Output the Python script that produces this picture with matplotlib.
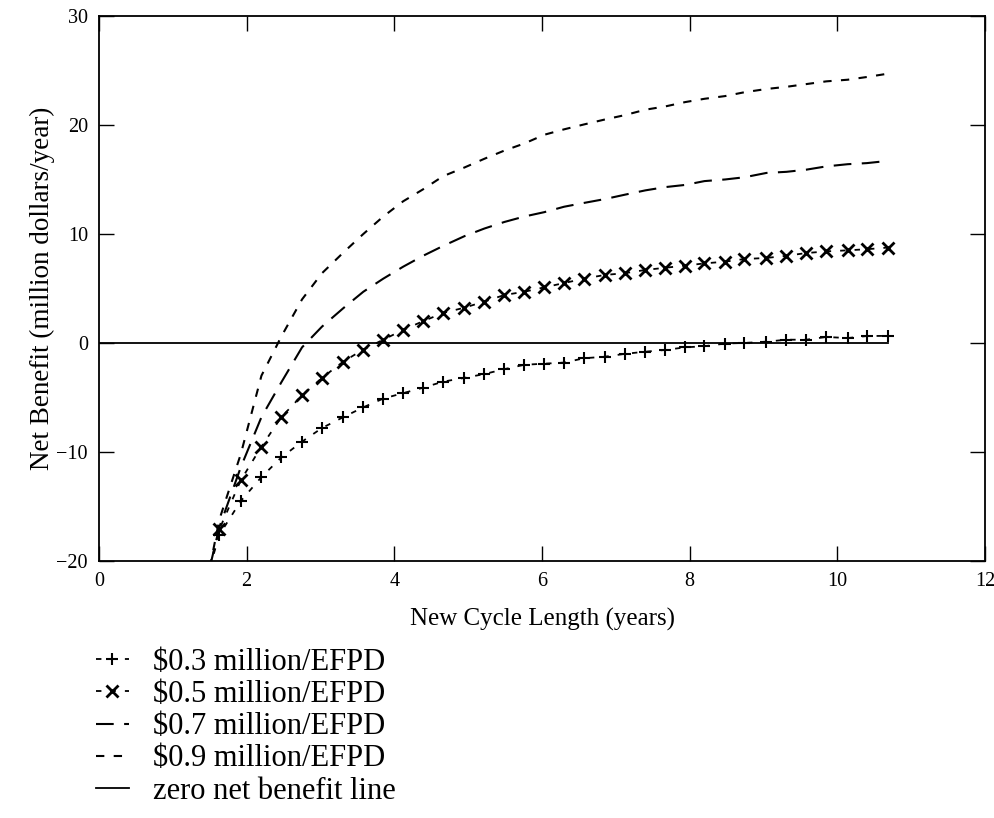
import matplotlib
matplotlib.use("Agg")
import matplotlib.pyplot as plt

# new cycle length (years) at each computed point
cycle = [1.50, 1.63, 1.92, 2.20, 2.47, 2.75, 3.02, 3.31, 3.58, 3.85, 4.12,
         4.39, 4.66, 4.95, 5.22, 5.49, 5.76, 6.03, 6.30, 6.57, 6.85, 7.12,
         7.40, 7.67, 7.94, 8.20, 8.48, 8.74, 9.04, 9.31, 9.58, 9.85, 10.14,
         10.40, 10.68]

# net benefit, million dollars/year
nb_03 = [-20.6, -17.6, -14.5, -12.3, -10.5, -9.05, -7.8, -6.8, -5.9, -5.1,
         -4.6, -4.1, -3.55, -3.2, -2.85, -2.4, -2.0, -1.9, -1.8, -1.4, -1.26,
         -1.0, -0.8, -0.64, -0.4, -0.3, -0.05, 0.0, 0.12, 0.3, 0.3, 0.55,
         0.45, 0.64, 0.65]
nb_05 = [-20.6, -17.1, -12.6, -9.5, -6.8, -4.8, -3.2, -1.7, -0.6, 0.3, 1.2,
         2.0, 2.75, 3.24, 3.8, 4.4, 4.7, 5.1, 5.5, 5.9, 6.24, 6.4, 6.7, 6.9,
         7.1, 7.3, 7.46, 7.7, 7.8, 8.0, 8.25, 8.4, 8.5, 8.6, 8.75]
nb_07 = [-20.6, -16.9, -11.4, -6.8, -3.6, -0.4, 1.5, 3.2, 4.7, 5.9, 7.0,
         8.0, 8.9, 9.8, 10.5, 11.1, 11.6, 12.0, 12.5, 12.85, 13.2, 13.6,
         14.0, 14.3, 14.5, 14.85, 15.0, 15.2, 15.6, 15.7, 15.9, 16.2, 16.4,
         16.5, 16.7]
nb_09 = [-20.6, -16.2, -10.2, -3.0, 0.6, 4.0, 6.4, 8.3, 10.0, 11.6, 13.0,
         14.1, 15.3, 16.1, 16.9, 17.65, 18.3, 19.1, 19.6, 20.05, 20.5, 20.9,
         21.4, 21.7, 22.1, 22.4, 22.65, 23.0, 23.3, 23.5, 23.75, 24.0, 24.15,
         24.4, 24.7]

zero_x = [0, 10.68]
zero_y = [0, 0]

labels = ["$0.3 million/EFPD", "$0.5 million/EFPD", "$0.7 million/EFPD",
          "$0.9 million/EFPD", "zero net benefit line"]

plt.rcParams['font.family'] = ['Liberation Serif', 'DejaVu Serif']

fig = plt.figure(figsize=(9.95, 8.18), dpi=100)
ax = fig.add_axes([0.0995, 0.3142, 0.8905, 0.6663])

ax.plot(cycle, nb_03, color='k', lw=1.3, linestyle=(0, (3, 5)),
        marker='+', ms=9, mew=1.5, markevery=range(1, len(cycle)), label=labels[0])
ax.plot(cycle, nb_05, color='k', lw=1.3, linestyle=(0, (3, 5)),
        marker='x', ms=9, mew=2, markevery=range(1, len(cycle)), label=labels[1])
ax.plot(cycle, nb_07, color='k', lw=1.5, linestyle=(0, (8.5, 5)), label=labels[2])
ax.plot(cycle, nb_09, color='k', lw=1.5, linestyle=(0, (4, 4.5)), label=labels[3])
ax.plot(zero_x, zero_y, color='k', lw=1.3, label=labels[4])

ax.set_xlim(0, 12)
ax.set_ylim(-20, 30)
ax.set_xticks(range(0, 13, 2))
ax.set_yticks(range(-20, 31, 10))
ax.tick_params(direction='in', length=11, width=1, top=True, right=True,
               labelsize=14.5, pad=8)
for s in ax.spines.values():
    s.set_linewidth(1.3)

ax.set_xlabel("New Cycle Length (years)", fontsize=18, labelpad=12)
ax.set_ylabel("Net Benefit (million dollars/year)", fontsize=19.5, labelpad=1)

leg = ax.legend(loc='upper left', bbox_to_anchor=(0.096, 0.208),
                bbox_transform=fig.transFigure, frameon=False, fontsize=22,
                handlelength=1.1, handletextpad=0.78, labelspacing=0.105,
                numpoints=1, borderpad=0, borderaxespad=0)

fig.savefig("out.png", dpi=100)
